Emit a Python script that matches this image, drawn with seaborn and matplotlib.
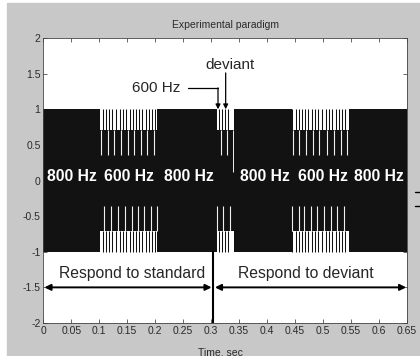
import matplotlib
matplotlib.use('Agg')
import matplotlib.pyplot as plt
import seaborn as sns
from matplotlib.patches import Rectangle
from matplotlib.lines import Line2D

# time axis of the recording (sec)
t_range = [0.0, 0.65]

# tone bursts: onset / offset (sec)
burst_start = [0.101, 0.310, 0.445]
burst_end = [0.204, 0.341, 0.547]

# sparse stripes inside each burst (upper / lower half of the waveform)
upper_lines = [
    [0.103, 0.115, 0.126, 0.139, 0.151, 0.1625, 0.1745, 0.186, 0.198],
    [0.317, 0.328],
    [0.4465, 0.458, 0.470, 0.482, 0.494, 0.508, 0.520, 0.532, 0.5435],
]
lower_lines = [
    [0.109, 0.121, 0.134, 0.146, 0.158, 0.1685, 0.180, 0.192, 0.2025],
    [0.311, 0.322, 0.334],
    [0.4446, 0.4566, 0.467, 0.478, 0.490, 0.502, 0.514, 0.526, 0.5375],
]
deviant_onset = 0.340
split_time = 0.303

tone_labels = ['800 Hz', '600 Hz', '800 Hz', '800 Hz', '600 Hz', '800 Hz']
tone_label_t = [0.052, 0.153, 0.260, 0.396, 0.4995, 0.600]

x_ticks = [0, 0.05, 0.1, 0.15, 0.2, 0.25, 0.3, 0.35, 0.4, 0.45, 0.5, 0.55, 0.6, 0.65]
x_ticklabels = ['0', '0.05', '0.1', '0.15', '0.2', '0.25', '0.3', '0.35', '0.4',
                '0.45', '0.5', '0.55', '0.6', '0.65']
y_ticks = [-2, -1.5, -1, -0.5, 0, 0.5, 1, 1.5, 2]
y_ticklabels = ['-2', '-1.5', '-1', '-0.5', '0', '0.5', '1', '1.5', '2']


def draw_signal(ax):
    black = '#121212'
    ax.fill_between(t_range, -1, 1, color=black, lw=0, zorder=1)
    for i in range(len(burst_start)):
        seg = [burst_start[i], burst_end[i]]
        ax.fill_between(seg, 0.71, 1, color='white', lw=0, zorder=2)
        ax.fill_between(seg, -1, -0.71, color='white', lw=0, zorder=2)
        both = sorted(upper_lines[i] + lower_lines[i])
        mids = [(a + b) / 2 for a, b in zip(both[:-1], both[1:])]
        ax.vlines(mids, 0.71, 1, color=black, lw=0.75, zorder=3)
        ax.vlines(mids, -1, -0.71, color=black, lw=0.75, zorder=3)
        ax.vlines(upper_lines[i], 0.355, 0.71, color='#f0f0f0', lw=0.8, zorder=3)
        ax.vlines(lower_lines[i], -0.71, -0.355, color='#f0f0f0', lw=0.8, zorder=3)
    ax.vlines([deviant_onset], 0.12, 0.71, color='#f0f0f0', lw=0.7, zorder=3)


def annotate(ax):
    arrow = dict(arrowstyle='-|>', color='black', lw=0.9, mutation_scale=7,
                 shrinkA=0, shrinkB=0)
    ax.text(0.2013, 1.30, '600 Hz', ha='center', va='center', fontsize=11)
    ax.plot([0.259, 0.3125], [1.30, 1.30], color='black', lw=0.9)
    ax.annotate('', xy=(0.3125, 1.0), xytext=(0.3125, 1.30), arrowprops=arrow)
    ax.text(0.3334, 1.62, 'deviant', ha='center', va='center', fontsize=11)
    ax.annotate('', xy=(0.3262, 1.0), xytext=(0.3262, 1.51), arrowprops=arrow)

    for lab, t in zip(tone_labels, tone_label_t):
        ax.text(t, 0.05, lab, ha='center', va='center', color='white',
                fontsize=11.3, fontweight='bold', zorder=5)

    ax.plot([split_time, split_time], [-2, -1], color='black', lw=1.5, zorder=4)
    both = dict(arrowstyle='<|-|>', color='black', lw=1.4, mutation_scale=9,
                shrinkA=0, shrinkB=0)
    ax.annotate('', xy=(t_range[0] + 0.002, -1.5), xytext=(split_time - 0.002, -1.5),
                arrowprops=both)
    ax.annotate('', xy=(split_time + 0.004, -1.5), xytext=(t_range[1] - 0.001, -1.5),
                arrowprops=both)
    ax.text(0.1586, -1.30, 'Respond to standard', ha='center', va='center', fontsize=11.3)
    ax.text(0.4704, -1.30, 'Respond to deviant', ha='center', va='center', fontsize=11.3)


if __name__ == '__main__':
    sns.set_style('ticks')
    plt.rcParams['font.family'] = ['Liberation Sans', 'DejaVu Sans']

    fig = plt.figure(figsize=(4.2, 3.56), dpi=100)
    fig.patch.set_facecolor('white')
    fig.add_artist(Rectangle((7 / 420, 0), 413 / 420, 353 / 356,
                             transform=fig.transFigure, color='#c8c8c8', zorder=-10))
    ax = fig.add_axes([43.3 / 420, 1 - 323 / 356, 363.4 / 420, 285 / 356])
    ax.set_facecolor('white')

    draw_signal(ax)
    annotate(ax)

    ax.set_xlim(t_range)
    ax.set_ylim(-2, 2)
    ax.set_xticks(x_ticks)
    ax.set_xticklabels(x_ticklabels)
    ax.set_yticks(y_ticks)
    ax.set_yticklabels(y_ticklabels)
    ax.tick_params(direction='in', length=3, width=0.5, top=True, right=True,
                   labelsize=7.5, labelcolor='#2a2a2a', colors='#2a2a2a', pad=2)
    for sp in ax.spines.values():
        sp.set_visible(True)
        sp.set_color('#444444')
        sp.set_linewidth(0.6)

    ax.set_title('Experimental paradigm', fontsize=7.5, color='#2a2a2a',
                 y=1 + 13 / 285, va='center', pad=0)
    ax.set_xlabel('Time, sec', fontsize=7.5, color='#2a2a2a')
    ax.xaxis.set_label_coords((220 - 43.3) / 363.4, -29.5 / 285)
    ax.xaxis.label.set_va('center')

    for yy in [192, 206]:
        fig.add_artist(Line2D([415 / 420, 1], [1 - yy / 356] * 2,
                              transform=fig.transFigure, color='black', lw=1))

    fig.savefig('out.png', dpi=100, facecolor=fig.get_facecolor())
